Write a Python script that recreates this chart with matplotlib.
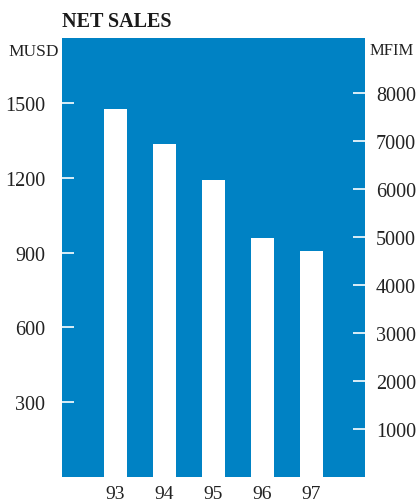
import matplotlib
matplotlib.use("Agg")
import matplotlib.pyplot as plt

# net sales per year, musd on the left scale, mfim on the right
years = ["93", "94", "95", "96", "97"]
sales_musd = [1475, 1335, 1190, 960, 905]

musd_ticks = [300, 600, 900, 1200, 1500]
mfim_ticks = [1000, 2000, 3000, 4000, 5000, 6000, 7000, 8000]

blue = "#0082c4"
plt.rcParams["font.family"] = ["Liberation Serif", "DejaVu Serif"]

W, H = 417, 502
fig = plt.figure(figsize=(W / 100, H / 100), dpi=100)
ax = fig.add_axes([62 / W, (H - 478) / H, 303 / W, (478 - 38.5) / H])
ax.set_facecolor(blue)

x = range(len(years))
ax.bar(x, sales_musd, width=23 / 49, color="white", linewidth=0)
ax.set_xlim(-1.09, len(years) - 1 + 1.09)
ax.set_ylim(0, 1763)

for s in ax.spines.values():
    s.set_visible(False)

ax.set_xticks(list(x))
ax.set_xticklabels(years, fontsize=14, color="#222222")
ax.tick_params(axis="x", length=0, pad=6)

ax.set_yticks(musd_ticks)
ax.set_yticklabels([str(v) for v in musd_ticks], fontsize=14.5, color="#222222")
ax.tick_params(axis="y", direction="in", length=8.5, width=1.2, color="white", pad=12)

# second scale in finnish marks
ax2 = ax.twinx()
ax2.set_ylim(0, 9146)
for s in ax2.spines.values():
    s.set_visible(False)
ax2.set_yticks(mfim_ticks)
ax2.set_yticklabels([str(v) for v in mfim_ticks], fontsize=14.5, color="#222222")
ax2.tick_params(axis="y", direction="in", length=8.5, width=1.2, color="white", pad=8)

fig.text(62 / W, 1 - 27 / H, "NET SALES", fontsize=14.5, fontweight="bold",
         color="#1a1a1a", va="baseline", ha="left")
fig.text(59 / W, 1 - 56 / H, "MUSD", fontsize=12.5, color="#222222",
         va="baseline", ha="right")
fig.text(370 / W, 1 - 55 / H, "MFIM", fontsize=12, color="#222222",
         va="baseline", ha="left")

fig.savefig("out.png", dpi=100)
